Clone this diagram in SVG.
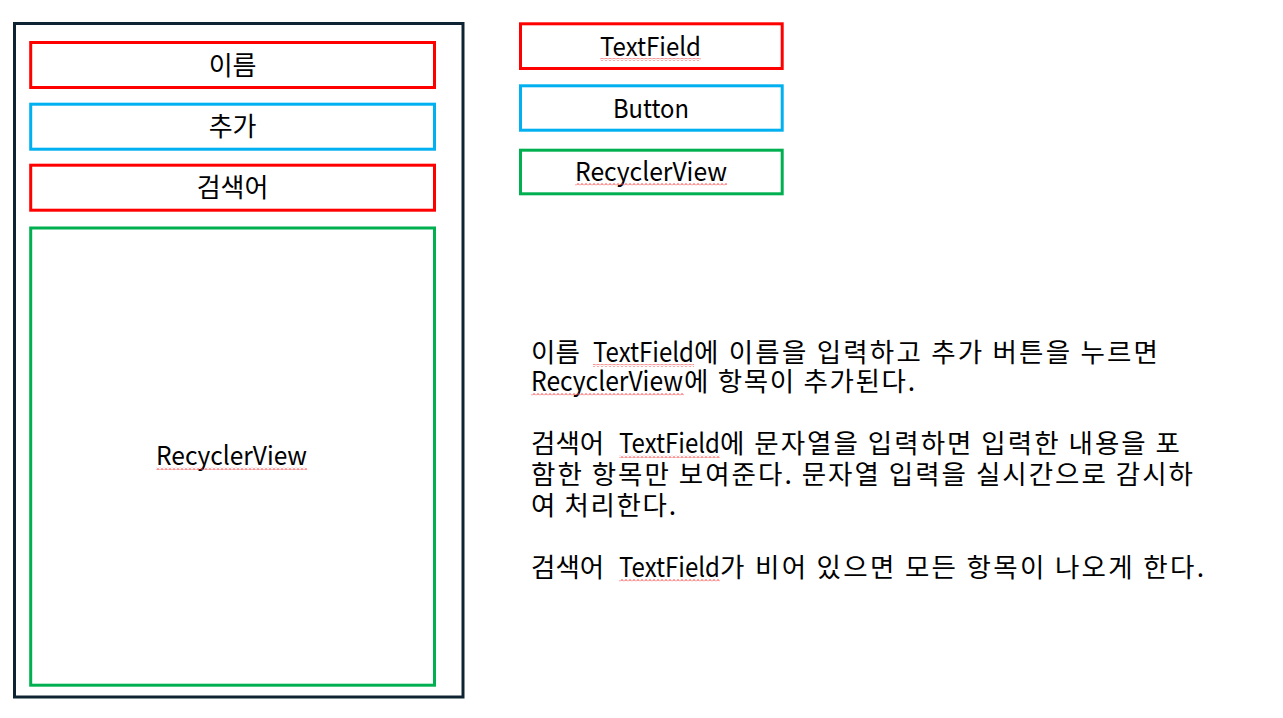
<svg xmlns="http://www.w3.org/2000/svg" width="1283" height="718" viewBox="0 0 1283 718">
<style>
.box{fill:none;stroke-width:3}
.red{stroke:#FF0000}
.blue{stroke:#00B0F0}
.green{stroke:#00B050}
.frame{fill:none;stroke:#0F2433;stroke-width:3}
.lbl{font-family:"Noto Sans CJK KR","Noto Sans",sans-serif;font-size:26px;fill:#000;text-anchor:middle}
.para{font-family:"Noto Sans CJK KR","Noto Sans",sans-serif;font-size:26.5px;fill:#000}
.sq{fill:url(#squig)}
</style>
<defs>
<pattern id="squig" x="0" y="0" width="4" height="3" patternUnits="userSpaceOnUse">
<path d="M0 2.4 L1 1.4 L2 0.6 L3 1.4 L4 2.4" fill="none" stroke="#FF3B3B" stroke-width="0.9"/>
</pattern>
</defs>
<rect width="1283" height="718" fill="#FFFFFF"/>

<g id="phone">
<rect class="frame" x="14.5" y="23.5" width="448.5" height="673.5"/>
</g>
<g id="name-field">
<rect class="box red" x="30.7" y="42.5" width="403.8" height="45"/>
<text class="lbl" x="232.6" y="75">이름</text>
</g>
<g id="add-button">
<rect class="box blue" x="30.7" y="104.2" width="403.8" height="45"/>
<text class="lbl" x="232.6" y="136">추가</text>
</g>
<g id="search-field">
<rect class="box red" x="30.7" y="165.2" width="403.8" height="45"/>
<text class="lbl" x="232.6" y="197">검색어</text>
</g>
<g id="recycler">
<rect class="box green" x="30.7" y="228" width="403.8" height="457.2"/>
<text class="lbl" x="231.5" y="465" textLength="151" lengthAdjust="spacingAndGlyphs">RecyclerView</text>
<rect class="sq" x="156" y="467" width="151" height="3"/>
</g>

<g id="legend-textfield">
<rect class="box red" x="520.5" y="23.8" width="261.7" height="44.7"/>
<text class="lbl" x="650.5" y="56" textLength="101" lengthAdjust="spacingAndGlyphs">TextField</text>
<rect class="sq" x="600" y="58" width="101" height="3"/>
</g>
<g id="legend-button">
<rect class="box blue" x="520.5" y="85.8" width="261.7" height="44.4"/>
<text class="lbl" x="651" y="118" textLength="76" lengthAdjust="spacingAndGlyphs">Button</text>
</g>
<g id="legend-recycler">
<rect class="box green" x="520.5" y="150.2" width="261.7" height="43.6"/>
<text class="lbl" x="651" y="181" textLength="152" lengthAdjust="spacingAndGlyphs">RecyclerView</text>
<rect class="sq" x="575" y="183" width="152" height="3"/>
</g>

<g id="description">
<text class="para" y="362"><tspan x="531">이름 </tspan><tspan x="593" textLength="101" lengthAdjust="spacingAndGlyphs">TextField</tspan><tspan x="694" textLength="464" lengthAdjust="spacing">에 이름을 입력하고 추가 버튼을 누르면</tspan></text>
<rect class="sq" x="593" y="364" width="101" height="3"/>
<text class="para" y="391"><tspan x="531" textLength="152" lengthAdjust="spacingAndGlyphs">RecyclerView</tspan><tspan x="684" textLength="231" lengthAdjust="spacing">에 항목이 추가된다.</tspan></text>
<rect class="sq" x="531" y="393" width="153" height="3"/>

<text class="para" y="453"><tspan x="531">검색어 </tspan><tspan x="619" textLength="101" lengthAdjust="spacingAndGlyphs">TextField</tspan><tspan x="720" textLength="460" lengthAdjust="spacing">에 문자열을 입력하면 입력한 내용을 포</tspan></text>
<rect class="sq" x="619" y="455" width="101" height="3"/>
<text class="para" x="531" y="484" textLength="662" lengthAdjust="spacing">함한 항목만 보여준다. 문자열 입력을 실시간으로 감시하</text>
<text class="para" x="531" y="515" textLength="145" lengthAdjust="spacing">여 처리한다.</text>

<text class="para" y="577"><tspan x="531">검색어 </tspan><tspan x="619" textLength="101" lengthAdjust="spacingAndGlyphs">TextField</tspan><tspan x="720" textLength="484" lengthAdjust="spacing">가 비어 있으면 모든 항목이 나오게 한다.</tspan></text>
<rect class="sq" x="619" y="579" width="101" height="3"/>
</g>
</svg>
